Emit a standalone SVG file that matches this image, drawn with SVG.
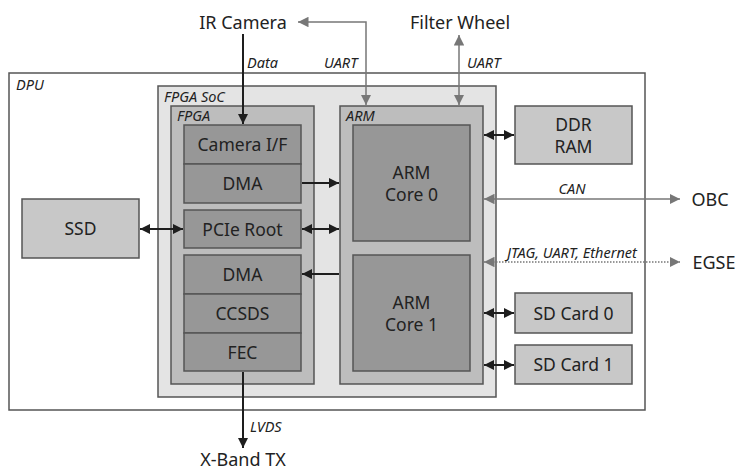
<svg xmlns="http://www.w3.org/2000/svg" width="735" height="470" viewBox="0 0 735 470">
<defs>
<marker id="ab" viewBox="0 0 10 10" refX="10" refY="5" markerWidth="5" markerHeight="5" orient="auto-start-reverse" markerUnits="strokeWidth"><path d="M0,0 L10,5 L0,10 z" fill="#1e1e1e"/></marker>
<marker id="ag" viewBox="0 0 10 10" refX="10" refY="5" markerWidth="7" markerHeight="7" orient="auto-start-reverse" markerUnits="strokeWidth"><path d="M0,0 L10,5 L0,10 z" fill="#777"/></marker>
</defs>
<style>
.box{stroke:#555;stroke-width:1.5}
.dpu{fill:#fff}
.soc{fill:#e4e4e4}
.fpga{fill:#bdbdbd}
.blk{fill:#979797}
.ext{fill:#c8c8c8}
text{font-family:"Noto Sans","Open Sans",sans-serif;fill:#222}
.t{font-size:17.5px;text-anchor:middle}
.big{font-size:18px}
.lbl{font-size:14.5px;font-style:italic}
.cb{stroke:#1e1e1e;stroke-width:2;fill:none}
.cg{stroke:#777;stroke-width:1.5;fill:none}
</style>
<rect width="735" height="470" fill="#fff"/>
<g id="dpu"><rect class="box dpu" x="9" y="73" width="636" height="337"/><text class="lbl" x="16" y="90">DPU</text></g>
<g id="fpga-soc"><rect class="box soc" x="158" y="86" width="338" height="311"/><text class="lbl" x="164" y="102">FPGA SoC</text></g>
<g id="fpga"><rect class="box fpga" x="171" y="106" width="143" height="278"/><text class="lbl" x="177" y="121">FPGA</text></g>
<g id="arm"><rect class="box fpga" x="340" y="106" width="143" height="278"/><text class="lbl" x="346" y="121">ARM</text></g>
<g id="camera-if"><rect class="box blk" x="184" y="125" width="117" height="39"/><text class="t" x="242.5" y="151">Camera I/F</text></g>
<g id="dma1"><rect class="box blk" x="184" y="164" width="117" height="39"/><text class="t" x="242.5" y="190">DMA</text></g>
<g id="pcie-root"><rect class="box blk" x="184" y="210" width="117" height="38"/><text class="t" x="242.5" y="236">PCIe Root</text></g>
<g id="dma2"><rect class="box blk" x="184" y="255" width="117" height="39"/><text class="t" x="242.5" y="281">DMA</text></g>
<g id="ccsds"><rect class="box blk" x="184" y="294" width="117" height="39"/><text class="t" x="242.5" y="320">CCSDS</text></g>
<g id="fec"><rect class="box blk" x="184" y="333" width="117" height="38"/><text class="t" x="242.5" y="359">FEC</text></g>
<g id="arm-core0"><rect class="box blk" x="353" y="125" width="117" height="116"/><text class="t" x="411.5" y="179">ARM</text><text class="t" x="411.5" y="201">Core 0</text></g>
<g id="arm-core1"><rect class="box blk" x="353" y="255" width="117" height="116"/><text class="t" x="411.5" y="309">ARM</text><text class="t" x="411.5" y="331">Core 1</text></g>
<g id="ddr-ram"><rect class="box ext" x="515" y="106" width="117" height="58"/><text class="t" x="573.5" y="131">DDR</text><text class="t" x="573.5" y="153">RAM</text></g>
<g id="sd-card0"><rect class="box ext" x="515" y="293" width="117" height="40"/><text class="t" x="573.5" y="320">SD Card 0</text></g>
<g id="sd-card1"><rect class="box ext" x="515" y="345" width="117" height="39"/><text class="t" x="573.5" y="371">SD Card 1</text></g>
<g id="ssd"><rect class="box ext" x="22" y="199" width="117" height="59"/><text class="t" x="80.5" y="235">SSD</text></g>
<g id="ir-camera"><text class="t big" x="243" y="29">IR Camera</text></g>
<g id="filter-wheel"><text class="t big" x="460" y="29">Filter Wheel</text></g>
<g id="obc"><text class="t big" x="710" y="206">OBC</text></g>
<g id="egse"><text class="t big" x="714" y="269">EGSE</text></g>
<g id="x-band-tx"><text class="t big" x="243" y="466">X-Band TX</text></g>
<g id="connectors">
<line class="cb" x1="243" y1="34" x2="243" y2="124" marker-end="url(#ab)"/>
<text class="lbl" x="247" y="68">Data</text>
<polyline class="cg" points="366,105 366,22 298,22" marker-start="url(#ag)" marker-end="url(#ag)"/>
<text class="lbl" x="324" y="68">UART</text>
<line class="cg" x1="459" y1="35" x2="459" y2="105" marker-start="url(#ag)" marker-end="url(#ag)"/>
<text class="lbl" x="467" y="68">UART</text>
<line class="cb" x1="484" y1="135" x2="514" y2="135" marker-start="url(#ab)" marker-end="url(#ab)"/>
<line class="cg" x1="484" y1="199" x2="680" y2="199" marker-start="url(#ag)" marker-end="url(#ag)"/>
<text class="lbl" x="572" y="194" text-anchor="middle">CAN</text>
<line class="cg" x1="484" y1="262" x2="680" y2="262" stroke-dasharray="1.5,1.5" marker-start="url(#ag)" marker-end="url(#ag)"/>
<text class="lbl" x="572" y="258" text-anchor="middle">JTAG, UART, Ethernet</text>
<line class="cb" x1="484" y1="313" x2="514" y2="313" marker-start="url(#ab)" marker-end="url(#ab)"/>
<line class="cb" x1="484" y1="365" x2="514" y2="365" marker-start="url(#ab)" marker-end="url(#ab)"/>
<line class="cb" x1="302" y1="183" x2="339" y2="183" marker-end="url(#ab)"/>
<line class="cb" x1="302" y1="229" x2="339" y2="229" marker-start="url(#ab)" marker-end="url(#ab)"/>
<line class="cb" x1="140" y1="229" x2="183" y2="229" marker-start="url(#ab)" marker-end="url(#ab)"/>
<line class="cb" x1="339" y1="274" x2="302" y2="274" marker-end="url(#ab)"/>
<line class="cb" x1="243" y1="372" x2="243" y2="448" marker-end="url(#ab)"/>
<text class="lbl" x="250" y="432">LVDS</text>
</g>
</svg>
